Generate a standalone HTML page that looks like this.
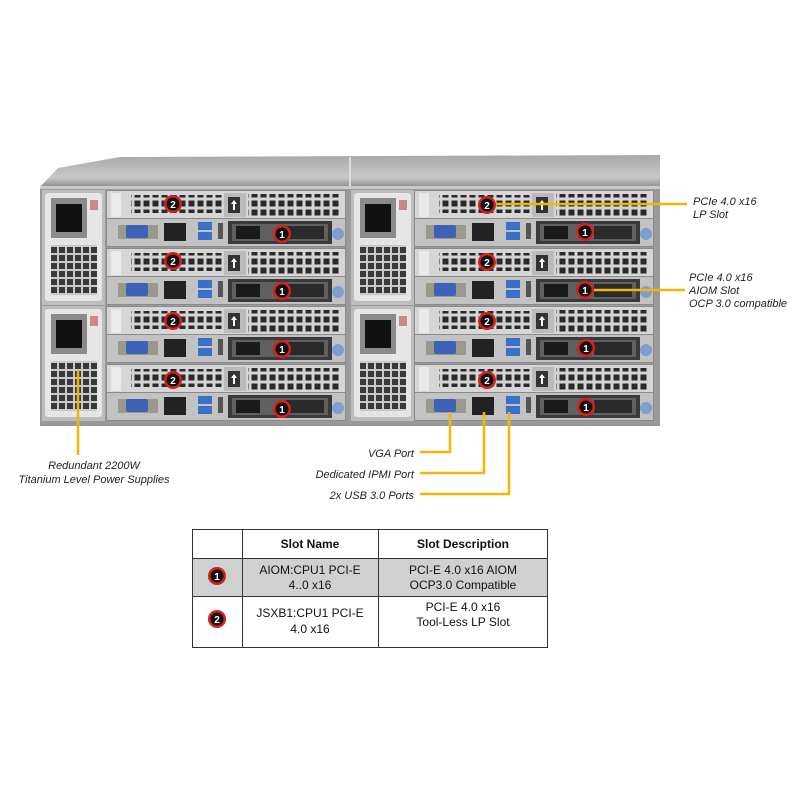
<!DOCTYPE html>
<html><head><meta charset="utf-8"><style>
html,body{margin:0;padding:0;background:#fff;width:800px;height:800px;overflow:hidden}
svg{display:block}
text{font-family:"Liberation Sans",Arial,sans-serif}
</style></head><body>
<svg width="800" height="800" viewBox="0 0 800 800" xmlns="http://www.w3.org/2000/svg">
<defs>
<pattern id="vent" width="9" height="9" patternUnits="userSpaceOnUse">
<rect width="9" height="9" fill="#d4d4d4"/><rect x="1.5" y="1.5" width="6" height="6" fill="#2a2a2a"/>
</pattern>
<pattern id="grill" width="8" height="8" patternUnits="userSpaceOnUse">
<rect width="8" height="8" fill="#c9c9c9"/><rect x="1" y="1" width="6" height="6" fill="#3a3a3a"/>
</pattern>
<linearGradient id="top" x1="0" y1="0" x2="0" y2="1"><stop offset="0" stop-color="#a8a8a8"/><stop offset="0.7" stop-color="#c8c8c8"/><stop offset="1" stop-color="#8e8e8e"/></linearGradient>
<g id="mk"><circle r="9" fill="#d81e1e"/><circle r="6.5" fill="#111"/></g>
<g id="node">
<rect x="0" y="0" width="240" height="57" fill="#8a8a8a"/>
<rect x="1" y="1" width="238" height="27" fill="#d6d6d6"/>
<rect x="5" y="3" width="10" height="24" fill="#eaeaea"/>
<rect x="25" y="5" width="95" height="18" fill="url(#vent)"/>
<rect x="118" y="3" width="22" height="24" fill="#bbb"/>
<rect x="122" y="7" width="12" height="16" fill="#333"/>
<path d="M128 10 l3 4 h-2 v6 h-2 v-6 h-2z" fill="#fff"/>
<rect x="142" y="4" width="92" height="22" fill="url(#vent)"/>
<rect x="1" y="29" width="238" height="27" fill="#c2c2c2"/>
<rect x="12" y="35" width="40" height="14" fill="#9a9a8a"/>
<rect x="20" y="35" width="22" height="13" fill="#3d62b8" rx="2"/>
<rect x="58" y="33" width="22" height="18" fill="#222"/>
<rect x="92" y="32" width="14" height="8" fill="#3a70c8"/>
<rect x="92" y="42" width="14" height="8" fill="#3a70c8"/>
<rect x="112" y="33" width="5" height="16" fill="#555"/>
<rect x="122" y="31" width="104" height="23" fill="#3a3a3a"/>
<rect x="126" y="34" width="96" height="17" fill="#606060"/>
<rect x="130" y="36" width="24" height="13" fill="#1a1a1a"/>
<rect x="180" y="36" width="38" height="13" fill="#2a2a2a"/>
<circle cx="232" cy="44" r="6" fill="#7f9fd0"/>
</g>
<g id="psu">
<rect x="0" y="0" width="63" height="115" fill="#bdbdbd"/>
<rect x="3" y="3" width="57" height="108" fill="#e6e6e6" rx="3"/>
<rect x="9" y="8" width="36" height="40" fill="#8a8a8a"/>
<rect x="14" y="14" width="26" height="28" fill="#111"/>
<rect x="48" y="10" width="8" height="10" fill="#c88"/>
<rect x="9" y="55" width="46" height="50" fill="url(#grill)"/>
</g>
</defs>

<polygon points="40,187 58,168 120,157 660,155 660,187" fill="url(#top)"/>
<line x1="350" y1="157" x2="350" y2="187" stroke="#ddd" stroke-width="2"/>
<rect x="40" y="186" width="620" height="240" fill="#9a9a9a"/>
<rect x="40" y="186" width="620" height="3" fill="#c9c9c9"/>

<use href="#psu" x="42" y="190"/>
<use href="#psu" x="42" y="306"/>
<use href="#psu" x="351" y="190"/>
<use href="#psu" x="351" y="306"/>

<use href="#node" x="106" y="190"/>
<use href="#node" x="106" y="248"/>
<use href="#node" x="106" y="306"/>
<use href="#node" x="106" y="364"/>
<use href="#node" x="414" y="190"/>
<use href="#node" x="414" y="248"/>
<use href="#node" x="414" y="306"/>
<use href="#node" x="414" y="364"/>

<g fill="#fff" font-size="10" font-weight="bold" text-anchor="middle">
<use href="#mk" x="173" y="204"/><text x="173" y="208" fill="#fff">2</text>
<use href="#mk" x="173" y="261"/><text x="173" y="265" fill="#fff">2</text>
<use href="#mk" x="173" y="321"/><text x="173" y="325" fill="#fff">2</text>
<use href="#mk" x="173" y="380"/><text x="173" y="384" fill="#fff">2</text>
<use href="#mk" x="282" y="234"/><text x="282" y="238" fill="#fff">1</text>
<use href="#mk" x="282" y="291"/><text x="282" y="295" fill="#fff">1</text>
<use href="#mk" x="282" y="349"/><text x="282" y="353" fill="#fff">1</text>
<use href="#mk" x="282" y="409"/><text x="282" y="413" fill="#fff">1</text>
<use href="#mk" x="487" y="205"/><text x="487" y="209" fill="#fff">2</text>
<use href="#mk" x="487" y="262"/><text x="487" y="266" fill="#fff">2</text>
<use href="#mk" x="487" y="321"/><text x="487" y="325" fill="#fff">2</text>
<use href="#mk" x="487" y="380"/><text x="487" y="384" fill="#fff">2</text>
<use href="#mk" x="585" y="232"/><text x="585" y="236" fill="#fff">1</text>
<use href="#mk" x="585" y="290"/><text x="585" y="294" fill="#fff">1</text>
<use href="#mk" x="586" y="348"/><text x="586" y="352" fill="#fff">1</text>
<use href="#mk" x="586" y="407"/><text x="586" y="411" fill="#fff">1</text>
</g>

<g stroke="#f2b705" stroke-width="2.5" fill="none">
<line x1="496" y1="204" x2="687" y2="204"/>
<line x1="594" y1="290" x2="685" y2="290"/>
<line x1="78" y1="370" x2="78" y2="455"/>
<polyline points="450,412 450,452 420,452"/>
<polyline points="484,412 484,473 420,473"/>
<polyline points="509,412 509,494 420,494"/>
</g>

<g font-size="11" font-style="italic" fill="#222">
<text x="693" y="205">PCIe 4.0 x16</text>
<text x="693" y="218">LP Slot</text>
<text x="689" y="281">PCIe 4.0 x16</text>
<text x="689" y="294">AIOM Slot</text>
<text x="689" y="307">OCP 3.0 compatible</text>
<text x="94" y="469" text-anchor="middle">Redundant 2200W</text>
<text x="94" y="483" text-anchor="middle">Titanium Level Power Supplies</text>
<text x="414" y="457" text-anchor="end">VGA Port</text>
<text x="414" y="478" text-anchor="end">Dedicated IPMI Port</text>
<text x="414" y="499" text-anchor="end">2x USB 3.0 Ports</text>
</g>

<rect x="192" y="558" width="355" height="38" fill="#d0d0d0"/>
<g stroke="#333" stroke-width="1" fill="none">
<rect x="192.5" y="529.5" width="355" height="118"/>
<line x1="192" y1="558.5" x2="547" y2="558.5"/>
<line x1="192" y1="596.5" x2="547" y2="596.5"/>
<line x1="242.5" y1="529" x2="242.5" y2="647"/>
<line x1="378.5" y1="529" x2="378.5" y2="647"/>
</g>
<g font-size="12" fill="#111" text-anchor="middle">
<text x="310" y="548" font-weight="bold">Slot Name</text>
<text x="463" y="548" font-weight="bold">Slot Description</text>
<text x="310" y="574">AIOM:CPU1 PCI-E</text>
<text x="310" y="589">4..0 x16</text>
<text x="463" y="574">PCI-E 4.0 x16 AIOM</text>
<text x="463" y="589">OCP3.0 Compatible</text>
<text x="310" y="617">JSXB1:CPU1 PCI-E</text>
<text x="310" y="633">4.0 x16</text>
<text x="463" y="611">PCI-E 4.0 x16</text>
<text x="463" y="626">Tool-Less LP Slot</text>
</g>
<g font-size="10" font-weight="bold" text-anchor="middle">
<use href="#mk" x="217" y="576"/><text x="217" y="580" fill="#fff">1</text>
<use href="#mk" x="217" y="619"/><text x="217" y="623" fill="#fff">2</text>
</g>
</svg>
</body></html>
